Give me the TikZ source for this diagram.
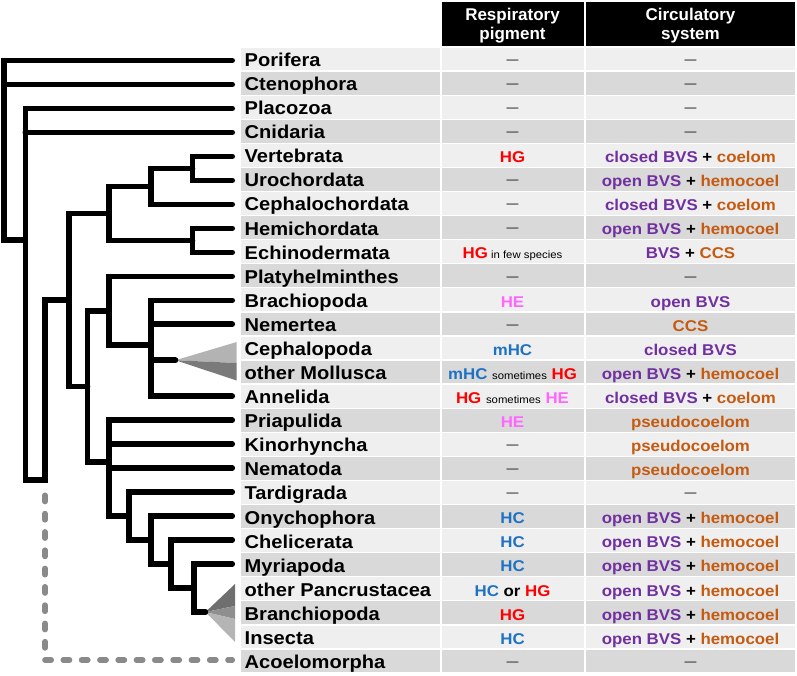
\documentclass[tikz,border=0pt]{standalone}
\usepackage{fontspec}
\newfontfamily\cellfont{Liberation Sans}[FakeStretch=1.08]
\newfontfamily\hdrfont{Liberation Sans}
\definecolor{rowL}{HTML}{EFEFEF}
\definecolor{rowD}{HTML}{D9D9D9}
\definecolor{pRed}{HTML}{FF0000}
\definecolor{pPink}{HTML}{FF66FF}
\definecolor{pBlue}{HTML}{1F72C3}
\definecolor{cPurple}{HTML}{7030A0}
\definecolor{cOrange}{HTML}{C55A11}
\definecolor{dashGray}{HTML}{8A8A8A}
\definecolor{dashTxt}{HTML}{404040}
\definecolor{molA}{HTML}{B3B3B3}
\definecolor{molB}{HTML}{7A7A7A}
\definecolor{panA}{HTML}{6F6F6F}
\definecolor{panB}{HTML}{8F8F8F}
\definecolor{panC}{HTML}{B5B5B5}
\newcommand\pgHG{{\color{pRed}HG}}
\newcommand\pgHE{{\color{pPink}HE}}
\newcommand\pgHC{{\color{pBlue}HC}}
\newcommand\pgmHC{{\color{pBlue}mHC}}
\newcommand\bvs[1]{{\color{cPurple}#1}}
\newcommand\cav[1]{{\color{cOrange}#1}}
\newcommand\smalltxt[1]{{\mdseries\fontsize{10.5}{12}\selectfont #1}}
\newcommand\nd{{\color{dashTxt}\raisebox{2.9pt}{\fontsize{11}{12}\selectfont —}}}
\newcommand\taxrow[5]{%
  \pgfmathsetmacro\rowtop{47+24.08*#1}%
  \pgfmathsetmacro\rowmid{59+24.08*#1}%
  \fill[#2] (241,\rowtop+0.65) rectangle (440,\rowtop+23.43);
  \fill[#2] (441.5,\rowtop+0.65) rectangle (584.3,\rowtop+23.43);
  \fill[#2] (586,\rowtop+0.65) rectangle (795,\rowtop+23.43);
  \node[taxon] (name#1) at (244.5,\rowmid+7.5) {#3};
  \node[entry] (pig#1) at (512.5,\rowmid+7.3) {#4};
  \node[entry] (circ#1) at (690.5,\rowmid+7.3) {#5};
}
\begin{document}
\begin{tikzpicture}[x=1pt,y=-1pt,
  taxon/.style={anchor=base west, inner sep=0pt, font=\cellfont\bfseries\fontsize{18.6}{20}\selectfont},
  entry/.style={anchor=base, inner sep=0pt, font=\cellfont\bfseries\fontsize{15.6}{18}\selectfont},
  hdr/.style={align=center, inner sep=0pt, text=white, font=\hdrfont\bfseries\fontsize{17}{18.6}\selectfont},
  treeline/.style={line width=5.6pt, line cap=round, line join=miter, black},
  dashline/.style={line width=5.6pt, dashGray, line cap=round, dash pattern=on 6.2pt off 12.1pt, dash phase=6.97pt, shorten <=4pt}]
\useasboundingbox (0,0) rectangle (797,676);

% header
\fill[black] (441.5,2) rectangle (584.3,46);
\fill[black] (586,2) rectangle (795,46);
\node[hdr] (hPig) at (512.5,25.7) {Respiratory\\pigment};
\node[hdr] (hCirc) at (690.5,25.7) {Circulatory\\system};

% table rows
\taxrow{0}{rowL}{Porifera}{\nd}{\nd}
\taxrow{1}{rowD}{Ctenophora}{\nd}{\nd}
\taxrow{2}{rowL}{Placozoa}{\nd}{\nd}
\taxrow{3}{rowD}{Cnidaria}{\nd}{\nd}
\taxrow{4}{rowL}{Vertebrata}{\pgHG}{\bvs{closed BVS} + \cav{coelom}}
\taxrow{5}{rowD}{Urochordata}{\nd}{\bvs{open BVS} + \cav{hemocoel}}
\taxrow{6}{rowL}{Cephalochordata}{\nd}{\bvs{closed BVS} + \cav{coelom}}
\taxrow{7}{rowD}{Hemichordata}{\nd}{\bvs{open BVS} + \cav{hemocoel}}
\taxrow{8}{rowL}{Echinodermata}{\pgHG\smalltxt{ in few species}}{\bvs{BVS} + \cav{CCS}}
\taxrow{9}{rowD}{Platyhelminthes}{\nd}{\nd}
\taxrow{10}{rowL}{Brachiopoda}{\pgHE}{\bvs{open BVS}}
\taxrow{11}{rowD}{Nemertea}{\nd}{\cav{CCS}}
\taxrow{12}{rowL}{Cephalopoda}{\pgmHC}{\bvs{closed BVS}}
\taxrow{13}{rowD}{other Mollusca}{\pgmHC{} \smalltxt{sometimes} \pgHG}{\bvs{open BVS} + \cav{hemocoel}}
\taxrow{14}{rowL}{Annelida}{\pgHG{} \smalltxt{sometimes} \pgHE}{\bvs{closed BVS} + \cav{coelom}}
\taxrow{15}{rowD}{Priapulida}{\pgHE}{\cav{pseudocoelom}}
\taxrow{16}{rowL}{Kinorhyncha}{\nd}{\cav{pseudocoelom}}
\taxrow{17}{rowD}{Nematoda}{\nd}{\cav{pseudocoelom}}
\taxrow{18}{rowL}{Tardigrada}{\nd}{\nd}
\taxrow{19}{rowD}{Onychophora}{\pgHC}{\bvs{open BVS} + \cav{hemocoel}}
\taxrow{20}{rowL}{Chelicerata}{\pgHC}{\bvs{open BVS} + \cav{hemocoel}}
\taxrow{21}{rowD}{Myriapoda}{\pgHC}{\bvs{open BVS} + \cav{hemocoel}}
\taxrow{22}{rowL}{other Pancrustacea}{\pgHC{} or \pgHG}{\bvs{open BVS} + \cav{hemocoel}}
\taxrow{23}{rowD}{Branchiopoda}{\pgHG}{\bvs{open BVS} + \cav{hemocoel}}
\taxrow{24}{rowL}{Insecta}{\pgHC}{\bvs{open BVS} + \cav{hemocoel}}
\taxrow{25}{rowD}{Acoelomorpha}{\nd}{\nd}

% tree coordinates
\foreach \i in {0,...,25} {\coordinate (L\i) at (232.25,60.5+23.98*\i);}
\coordinate (root)  at (4.2,240.29);
\coordinate (nA)    at (25.3,240.29);
\coordinate (nB)    at (45,479.97);
\coordinate (nC)    at (68.7,299.93);
\coordinate (deut)  at (109.2,213.37);
\coordinate (chord) at (150.8,186.4);
\coordinate (olf)   at (192.5,168.41);
\coordinate (amb)   at (192.5,240.35);
\coordinate (prot)  at (87.5,386.48);
\coordinate (spir)  at (109.2,310.79);
\coordinate (loph)  at (150.8,345.26);
\coordinate (moll)  at (175.5,360.25);
\coordinate (ecd)   at (109.2,462.17);
\coordinate (panar) at (129.2,516.12);
\coordinate (onar)  at (150.8,540.1);
\coordinate (arth)  at (170.8,564.08);
\coordinate (mand)  at (194.2,588.06);
\coordinate (panc)  at (205.5,612.04);

% collapsed clades
\fill[molA] (moll) -- (236.7,342) -- (236.7,363) -- cycle;
\fill[molB] (moll) -- (236.7,363) -- (236.7,380.5) -- cycle;
\fill[panA] (panc) -- (235,584) -- (235,606) -- cycle;
\fill[panB] (panc) -- (235,606) -- (235,619) -- cycle;
\fill[panC] (panc) -- (235,619) -- (235,642) -- cycle;

% uncertain placement of Acoelomorpha
\draw[dashline] (nB) -- (nB |- L25) -- (L25);

% tree
\draw[treeline] (L0) -| (root) -- (nA);
\draw[treeline] (root |- L1) -- (L1);
\draw[treeline] (L2) -| (nA |- nB) -- (nB) |- (nC);
\draw[treeline] (nA |- L3) -- (L3);
\draw[treeline] (deut) -| (nC) |- (prot);
\draw[treeline] (chord) -| (deut) |- (amb);
\draw[treeline] (olf) -| (chord) |- (L6);
\draw[treeline] (L4) -| (olf) |- (L5);
\draw[treeline] (L7) -| (amb) |- (L8);
\draw[treeline] (spir) -| (prot) |- (ecd);
\draw[treeline] (L9) -| (spir) |- (loph);
\draw[treeline] (L10) -| (loph) |- (L14);
\draw[treeline] (loph |- L11) -- (L11);
\draw[treeline] (loph |- moll) -- (moll);
\draw[treeline] (L15) -| (ecd |- panar) -- (panar);
\draw[treeline] (ecd |- L16) -- (L16);
\draw[treeline] (ecd |- L17) -- (L17);
\draw[treeline] (L18) -| (panar) |- (onar);
\draw[treeline] (L19) -| (onar) |- (arth);
\draw[treeline] (L20) -| (arth) |- (mand);
\draw[treeline] (L21) -| (mand) |- (panc);
\end{tikzpicture}
\end{document}
